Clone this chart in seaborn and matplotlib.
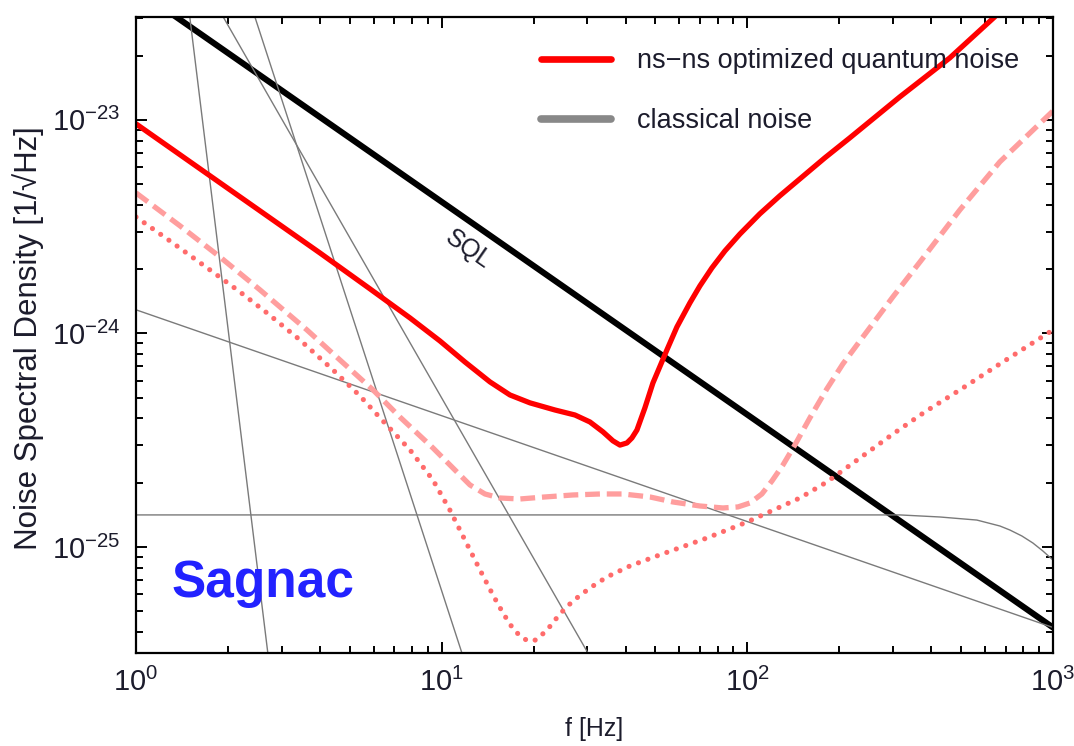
import matplotlib
matplotlib.use("Agg")
import matplotlib.pyplot as plt
from matplotlib.lines import Line2D
from matplotlib.ticker import NullFormatter
import seaborn as sns

# --- valores (f en Hz, densidad en 1/sqrt(Hz)) ---
sql_f = [1, 1000]
sql_s = [4.1e-23, 4.2e-26]

# ruido clasico: cuatro rectas y el nivel plano que cae a alta frecuencia
gris_a_f = [1.50, 2.70]
gris_a_s = [3.03e-23, 3.19e-26]
gris_b_f = [1.93, 30.1]
gris_b_s = [3.03e-23, 3.19e-26]
gris_c_f = [2.45, 11.65]
gris_c_s = [3.03e-23, 3.19e-26]
gris_d_f = [1, 1000]
gris_d_s = [1.29e-24, 4.2e-26]
gris_e_f = [1, 315.6, 426.6, 563.7, 670.5, 722.8, 791.3, 859.7, 926.8, 1000]
gris_e_s = [1.413e-25, 1.413e-25, 1.382e-25, 1.337e-25, 1.254e-25, 1.201e-25, 1.126e-25,
            1.044e-25, 9.58e-26, 8.69e-26]

# ruido cuantico optimizado ns-ns (rojo continuo)
rojo_f = [1, 1.62, 2.544, 4.0, 5.831, 7.877, 9.873, 11.92, 14.39, 16.73, 19.45, 23.48, 27.3,
          30.56, 33.71, 36.35, 38.32, 40.39, 41.93, 43.55, 46.24, 49.12, 54.58, 58.85, 64.9,
          69.98, 76.6, 84.5, 94.6, 109.9, 127.8, 148.6, 179.4, 216.6, 315.6, 460.0, 645.6]
rojo_s = [9.58e-24, 5.9e-24, 3.75e-24, 2.38e-24, 1.616e-24, 1.182e-24, 9.22e-25, 7.35e-25,
          5.93e-25, 5.15e-25, 4.73e-25, 4.38e-25, 4.15e-25, 3.85e-25, 3.46e-25, 3.14e-25,
          3.0e-25, 3.07e-25, 3.24e-25, 3.53e-25, 4.48e-25, 5.86e-25, 8.37e-25, 1.072e-24,
          1.39e-24, 1.669e-24, 2.026e-24, 2.434e-24, 2.92e-24, 3.63e-24, 4.41e-24, 5.29e-24,
          6.64e-24, 8.24e-24, 1.281e-23, 1.951e-23, 3.04e-23]

# curva discontinua (rosa)
disc_f = [1, 1.393, 1.883, 2.544, 3.626, 4.648, 5.962, 7.304, 9.365, 11.05, 12.38, 13.86,
          15.51, 18.04, 21.77, 26.89, 32.95, 39.18, 48.02, 57.1, 69.98, 83.23, 93.18, 102.0,
          111.6, 120.4, 130.8, 143.1, 160.2, 182.1, 205.5, 233.6, 299.5, 386.9, 496.2, 670.5,
          1000]
disc_s = [4.55e-24, 3.19e-24, 2.28e-24, 1.6e-24, 1.038e-24, 7.51e-25, 5.44e-25, 4.06e-25,
          2.91e-25, 2.295e-25, 1.952e-25, 1.771e-25, 1.696e-25, 1.678e-25, 1.715e-25, 1.752e-25,
          1.771e-25, 1.771e-25, 1.715e-25, 1.625e-25, 1.556e-25, 1.523e-25, 1.54e-25, 1.607e-25,
          1.771e-25, 2.037e-25, 2.42e-25, 3.004e-25, 4.02e-25, 5.5e-25, 7.2e-25, 9.22e-25,
          1.483e-24, 2.38e-24, 3.79e-24, 6.36e-24, 1.1e-23]

# curva punteada (rojo claro)
punt_f = [1, 1.292, 1.746, 2.189, 2.683, 3.44, 4.41, 5.404, 6.427, 7.877, 9.365, 10.64,
          11.92, 13.35, 14.72, 15.87, 16.98, 18.04, 19.16, 20.35, 22.11, 24.38, 26.89, 30.56,
          34.73, 41.3, 50.62, 73.79, 100, 148.6, 182.1, 233.6, 299.5, 381.1, 496.2, 670.5, 1000]
punt_s = [3.51e-24, 2.71e-24, 1.983e-24, 1.564e-24, 1.247e-24, 9.32e-25, 6.75e-25, 5.1e-25,
          3.89e-25, 2.85e-25, 2.06e-25, 1.49e-25, 1.078e-25, 7.81e-26, 5.96e-26, 4.91e-26,
          4.22e-26, 3.83e-26, 3.63e-26, 3.67e-26, 4.08e-26, 4.86e-26, 5.59e-26, 6.43e-26,
          7.24e-26, 8.15e-26, 9.08e-26, 1.102e-25, 1.31e-25, 1.696e-25, 2.015e-25, 2.61e-25,
          3.38e-25, 4.29e-25, 5.44e-25, 7.2e-25, 1.038e-24]

ticks_x = [1, 10, 100, 1000]
ticks_y = [1e-25, 1e-24, 1e-23]
etiquetas_leyenda = ["ns\u2212ns optimized quantum noise", "classical noise"]

sns.set_style("ticks")
plt.rcParams["font.family"] = ["Liberation Sans", "DejaVu Sans"]
plt.rcParams["mathtext.default"] = "regular"
texto = "#1c1c2c"

fig = plt.figure(figsize=(10.74, 7.46), dpi=100)
ax = fig.add_axes([0.1266, 0.1247, 0.9804 - 0.1266, 0.9772 - 0.1247])

# SQL
sns.lineplot(x=sql_f, y=sql_s, ax=ax, color="black", linewidth=4.4, estimator=None, sort=False)

# ruido clasico
for fx, sy in [(gris_a_f, gris_a_s), (gris_b_f, gris_b_s), (gris_c_f, gris_c_s),
               (gris_d_f, gris_d_s), (gris_e_f, gris_e_s)]:
    sns.lineplot(x=fx, y=sy, ax=ax, color="#7a7a7a", linewidth=1.0, estimator=None, sort=False)

# punteada
sns.lineplot(x=punt_f, y=punt_s, ax=ax, color="#ff6b6b", linewidth=3.7, estimator=None, sort=False)
ax.lines[-1].set_dashes([0.01, 1.95])
ax.lines[-1].set_dash_capstyle("round")

# discontinua
sns.lineplot(x=disc_f, y=disc_s, ax=ax, color="#ff9e9e", linewidth=3.8, estimator=None, sort=False)
ax.lines[-1].set_dashes([2.8, 1.3])

# continua roja
sns.lineplot(x=rojo_f, y=rojo_s, ax=ax, color="#ff0000", linewidth=3.8, estimator=None, sort=False)

ax.set_xscale("log")
ax.set_yscale("log")
ax.set_xlim(1, 1000)
ax.set_ylim(3.19e-26, 3.03e-23)
ax.set_xticks(ticks_x)
ax.set_yticks(ticks_y)
ax.xaxis.set_minor_formatter(NullFormatter())
ax.yaxis.set_minor_formatter(NullFormatter())

for s in ax.spines.values():
    s.set_linewidth(1.6)
    s.set_color("black")
ax.tick_params(which="both", direction="in", top=True, right=True, width=1.4, color="black")
ax.tick_params(which="major", length=8, pad=11, labelsize=21, labelcolor=texto)
ax.tick_params(which="minor", length=5)

ax.set_xlabel("f [Hz]", fontsize=18, color=texto)
ax.set_ylabel("Noise Spectral Density [1/\u221aHz]", fontsize=22.5, color=texto)
ax.xaxis.set_label_coords(0.5, -0.1)
ax.yaxis.set_label_coords(-0.1003, 0.495)

ax.text(12.2, 2.46e-24, "SQL", rotation=-34.8, ha="center", va="center",
        fontsize=18, color=texto, rotation_mode="anchor")
ax.text(0.039, 0.088, "Sagnac", transform=ax.transAxes, ha="left", va="baseline",
        fontsize=37, fontweight="bold", color="#2222ff")

manejadores = [Line2D([], [], color="#ff0000", linewidth=4.8),
               Line2D([], [], color="#888888", linewidth=5.5, solid_capstyle="round")]
leg = ax.legend(manejadores, etiquetas_leyenda, loc="upper right", frameon=False,
                prop={"size": 19.5}, handlelength=2.6, handletextpad=0.95,
                labelspacing=1.25, borderaxespad=0, bbox_to_anchor=(0.975, 0.968))
for t in leg.get_texts():
    t.set_color(texto)

fig.savefig("out.png", dpi=100)
plt.close(fig)
